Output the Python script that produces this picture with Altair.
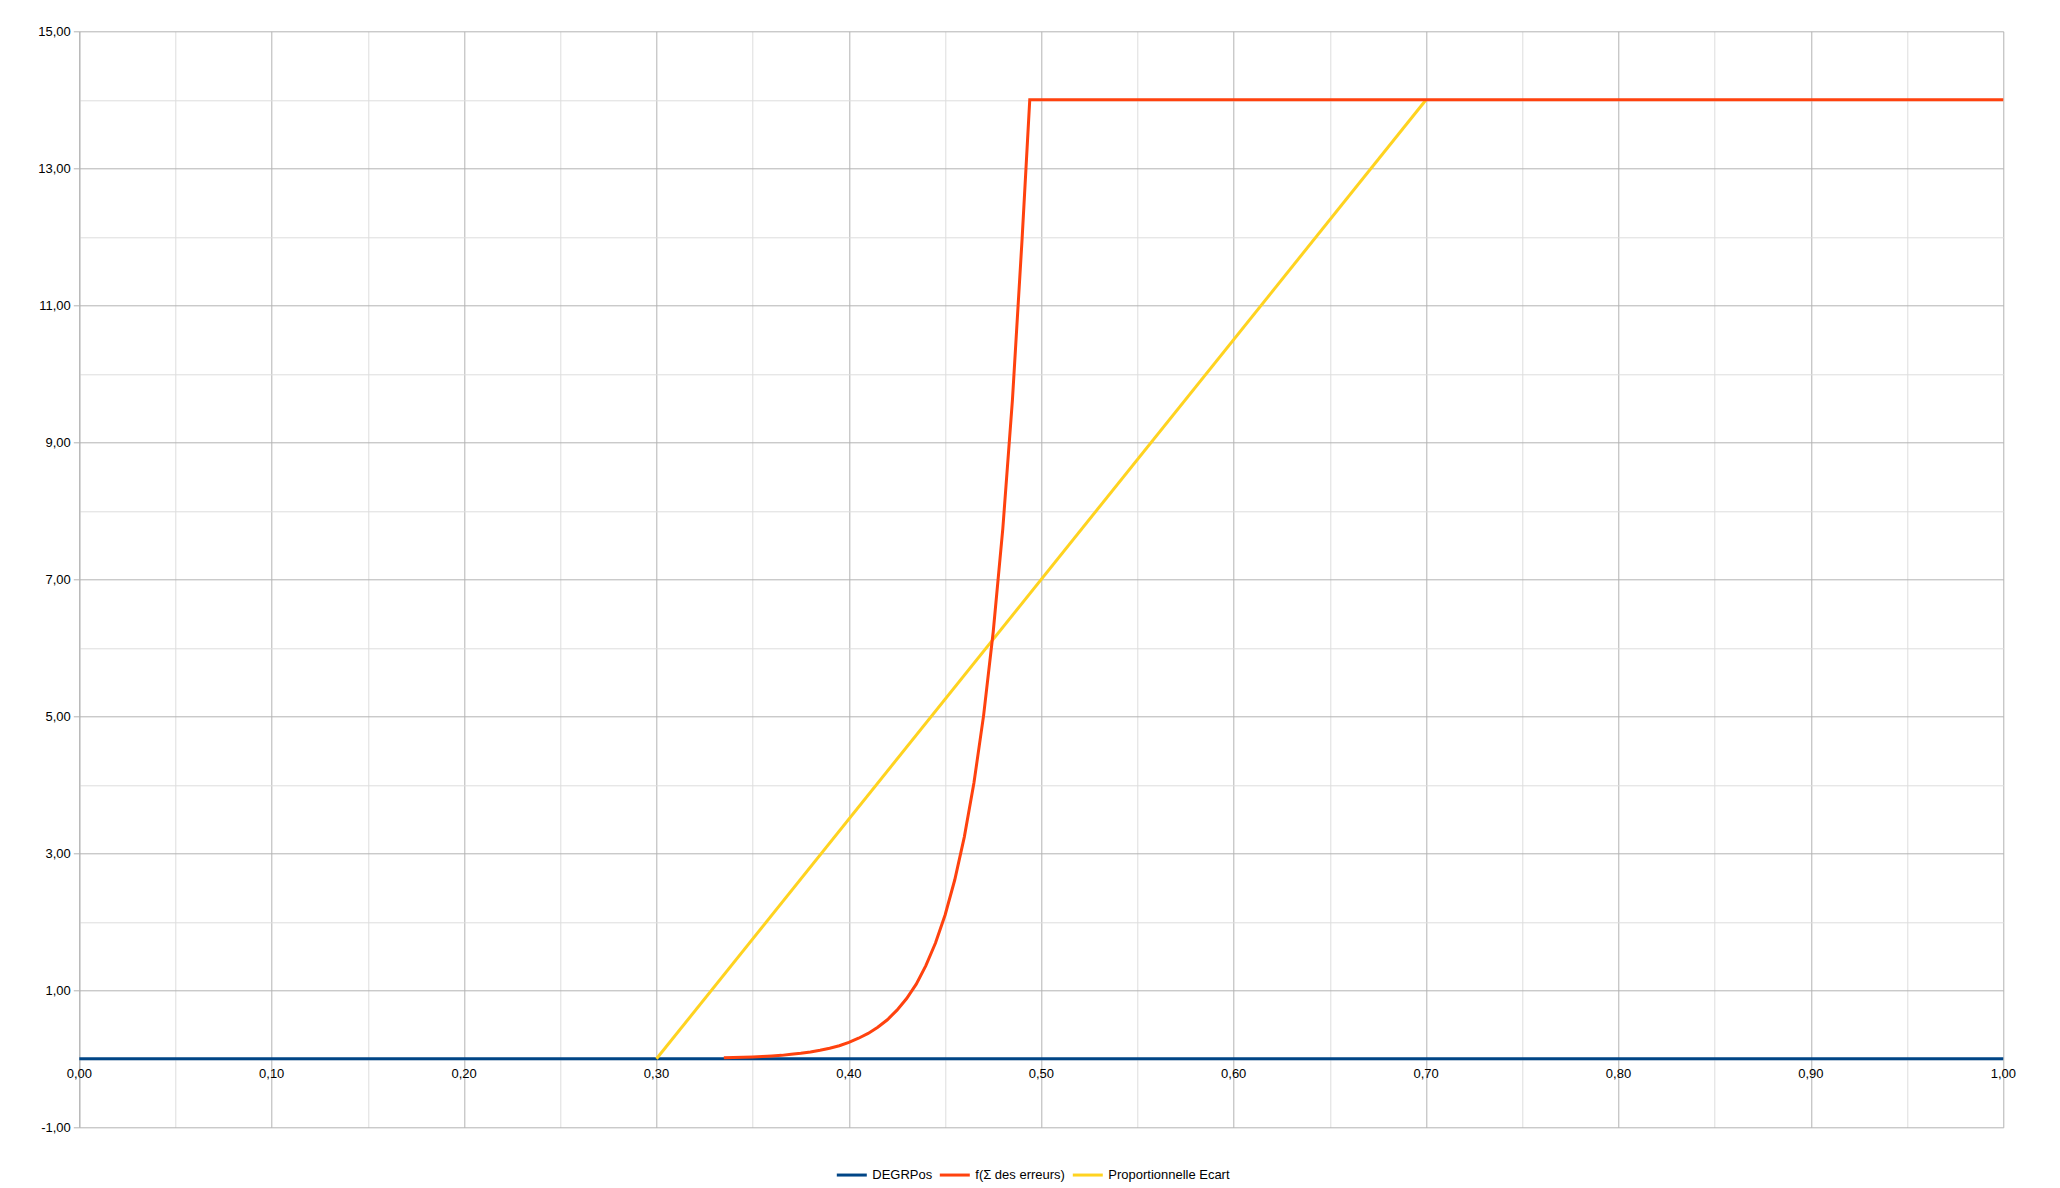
import altair as alt
import pandas as pd

# ---- data ----
series_names = ["DEGRPos", "f(Σ des erreurs)", "Proportionnelle Ecart"]
series_colors = ["#004586", "#ff420e", "#ffd320"]

degr_x = [0.0, 1.0]
degr_y = [0.0, 0.0]

prop_x = [0.30, 0.70]
prop_y = [0.0, 14.0]

f_x = [0.335, 0.340, 0.345, 0.350, 0.355, 0.360, 0.365, 0.370, 0.375, 0.380,
       0.385, 0.390, 0.395, 0.400, 0.405, 0.410, 0.415, 0.420, 0.425, 0.430,
       0.435, 0.440, 0.445, 0.450, 0.455, 0.460, 0.465, 0.470, 0.475, 0.480,
       0.485, 0.490, 0.494, 1.000]
f_y = [0.014, 0.018, 0.022, 0.027, 0.034, 0.042, 0.05, 0.065, 0.08, 0.10,
       0.125, 0.155, 0.19, 0.24, 0.30, 0.37, 0.46, 0.57, 0.71, 0.88,
       1.09, 1.36, 1.69, 2.10, 2.61, 3.24, 4.03, 5.01, 6.23, 7.74,
       9.62, 11.96, 14.0, 14.0]

x_grid_values = [0.0, 0.05, 0.1, 0.15, 0.2, 0.25, 0.3, 0.35, 0.4, 0.45, 0.5,
                 0.55, 0.6, 0.65, 0.7, 0.75, 0.8, 0.85, 0.9, 0.95, 1.0]
x_label_values = [0.0, 0.1, 0.2, 0.3, 0.4, 0.5, 0.6, 0.7, 0.8, 0.9, 1.0]
x_label_texts = ["0,00", "0,10", "0,20", "0,30", "0,40", "0,50",
                 "0,60", "0,70", "0,80", "0,90", "1,00"]
y_values = [-1, 0, 1, 2, 3, 4, 5, 6, 7, 8, 9, 10, 11, 12, 13, 14, 15]

FONT = "Liberation Sans"
MAJOR = "#b3b3b3"
MINOR = "#dddddd"

df_degr = pd.DataFrame({"x": degr_x, "y": degr_y, "s": series_names[0]})
df_f = pd.DataFrame({"x": f_x, "y": f_y, "s": series_names[1]})
df_prop = pd.DataFrame({"x": prop_x, "y": prop_y, "s": series_names[2]})
df_xlab = pd.DataFrame({"x": x_label_values, "t": x_label_texts, "y": 0.0})

xscale = alt.Scale(domain=[0, 1], nice=False, zero=False)
yscale = alt.Scale(domain=[-1, 15], nice=False, zero=False)
cscale = alt.Scale(domain=series_names, range=series_colors)

x_axis = alt.Axis(
    values=x_grid_values, grid=True, labels=False, ticks=False, domain=False,
    title=None,
    gridColor={"condition": {"test": "round(datum.value*100) % 10 == 0", "value": MAJOR}, "value": MINOR},
)

y_axis = alt.Axis(
    values=y_values, grid=True, title=None, domain=True, domainColor=MAJOR,
    gridColor={"condition": {"test": "datum.value % 2 == 0", "value": MINOR}, "value": MAJOR},
    tickSize=6,
    tickColor={"condition": {"test": "datum.value % 2 == 0", "value": "rgba(0,0,0,0)"}, "value": MAJOR},
    labelExpr="datum.value % 2 == 0 ? '' : replace(replace(format(datum.value, '.2f'), '.', ','), '−', '-')",
    labelFont=FONT, labelFontSize=13, labelColor="#000000", labelPadding=3,
    labelFlush=False,
)

legend = alt.Legend(
    title=None, orient="none", direction="horizontal", legendX=756, legendY=1127,
    symbolType="stroke", symbolStrokeWidth=3, symbolSize=900,
    labelFont=FONT, labelFontSize=13, labelColor="#000000", labelOffset=4,
    columnPadding=1, columns=3,
)

blue = alt.Chart(df_degr).mark_line(strokeWidth=3).encode(
    x=alt.X("x:Q", scale=xscale, axis=x_axis),
    y=alt.Y("y:Q", scale=yscale, axis=y_axis),
    color=alt.Color("s:N", scale=cscale, legend=legend),
)

yellow = alt.Chart(df_prop).mark_line(strokeWidth=3).encode(
    x=alt.X("x:Q", scale=xscale),
    y=alt.Y("y:Q", scale=yscale),
    color=alt.Color("s:N", scale=cscale),
)

red = alt.Chart(df_f).mark_line(strokeWidth=3).encode(
    x=alt.X("x:Q", scale=xscale),
    y=alt.Y("y:Q", scale=yscale),
    color=alt.Color("s:N", scale=cscale),
)

xlabels = alt.Chart(df_xlab).mark_text(
    font=FONT, fontSize=13, color="#000000", baseline="middle", align="center", dy=15,
).encode(
    x=alt.X("x:Q", scale=xscale),
    y=alt.Y("y:Q", scale=yscale),
    text="t:N",
)

chart = alt.layer(blue, yellow, red, xlabels).properties(
    width=1924, height=1096,
    padding={"left": 71.3, "top": 23.3, "right": 30, "bottom": 56},
    autosize=alt.AutoSizeParams(type="none"),
    background="#ffffff",
).configure_view(stroke=None)

chart.save("out.html", embed_options={"renderer": "svg", "actions": False})
